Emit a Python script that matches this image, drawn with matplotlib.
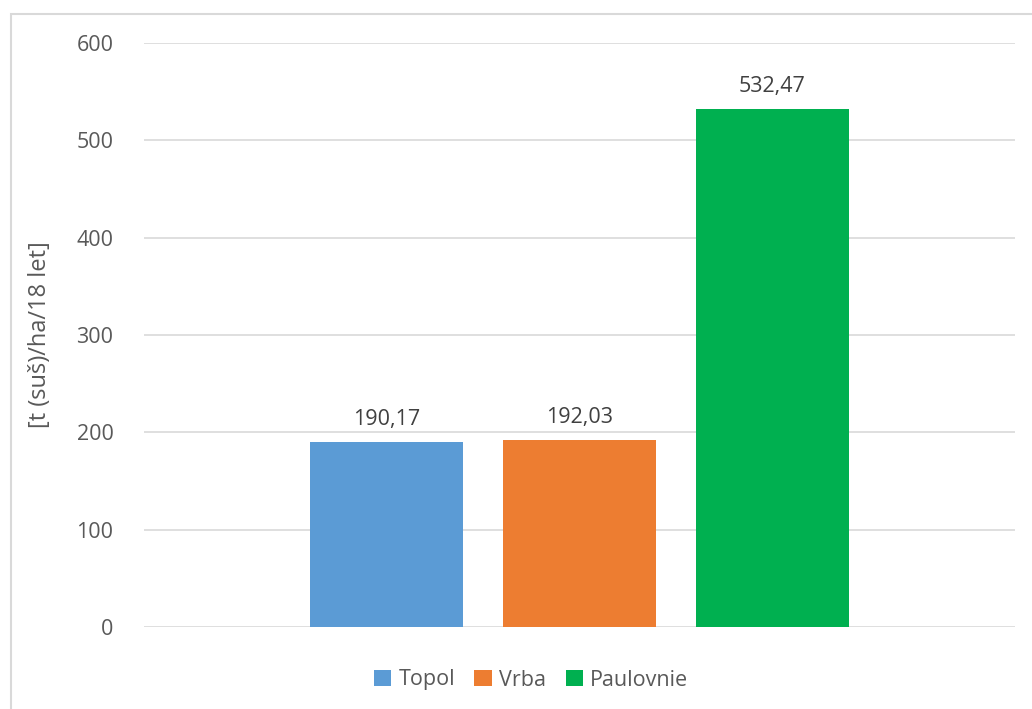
import matplotlib
matplotlib.use("Agg")
import matplotlib.pyplot as plt
from matplotlib.patches import Rectangle, Patch

plt.rcParams['font.family'] = ['Open Sans', 'DejaVu Sans']

series = ["Topol", "Vrba", "Paulovnie"]
values = [190.17, 192.03, 532.47]
colors = ["#5B9BD5", "#ED7D31", "#00B050"]
ylabel = "[t (suš)/ha/18 let]"
yticks = [0, 100, 200, 300, 400, 500, 600]

W, H = 1032, 709
fig = plt.figure(figsize=(W / 100, H / 100), dpi=100)

# chart frame (runs off the right and bottom edges)
fig.patches.append(Rectangle((11 / W, -0.05), 1.1, (H - 14) / H + 0.05,
                             transform=fig.transFigure, fill=False,
                             edgecolor="#D9D9D9", linewidth=1.5))

ax = fig.add_axes([144 / W, 82 / H, (1015 - 144) / W, 584 / H])
ax.set_xlim(-0.5, 0.5)
ax.set_ylim(0, 600)

bar_w = 153 / 871
step = 193 / 871
for i, (name, v, c) in enumerate(zip(series, values, colors)):
    x = (i - 1) * step
    ax.bar(x, v, width=bar_w, color=c, zorder=3)
    ax.annotate(f"{v:.2f}".replace(".", ","), (x, v), xytext=(0, 8.5),
                textcoords="offset points", ha="center", va="bottom",
                fontsize=15.5, color="#404040")

ax.set_yticks(yticks)
ax.set_yticklabels([str(t) for t in yticks], fontsize=15.5, color="#595959")
ax.tick_params(axis="y", length=0, pad=22)
ax.set_xticks([])
ax.grid(axis="y", color="#D9D9D9", linewidth=1.2, zorder=0)
for s in ax.spines.values():
    s.set_visible(False)

fig.text(40 / W, 1 - 335 / H, ylabel, rotation=90, ha="center", va="center",
         fontsize=17, color="#595959")

handles = [Patch(facecolor=c, edgecolor="none") for c in colors]
fig.legend(handles, series, loc="center", bbox_to_anchor=(531 / W, 1 - 680 / H),
           ncol=3, frameon=False, fontsize=15.5, labelcolor="#595959",
           handlelength=0.8, handleheight=0.8, handletextpad=0.35,
           columnspacing=0.9)

fig.savefig("out.png", dpi=100, facecolor="white")
